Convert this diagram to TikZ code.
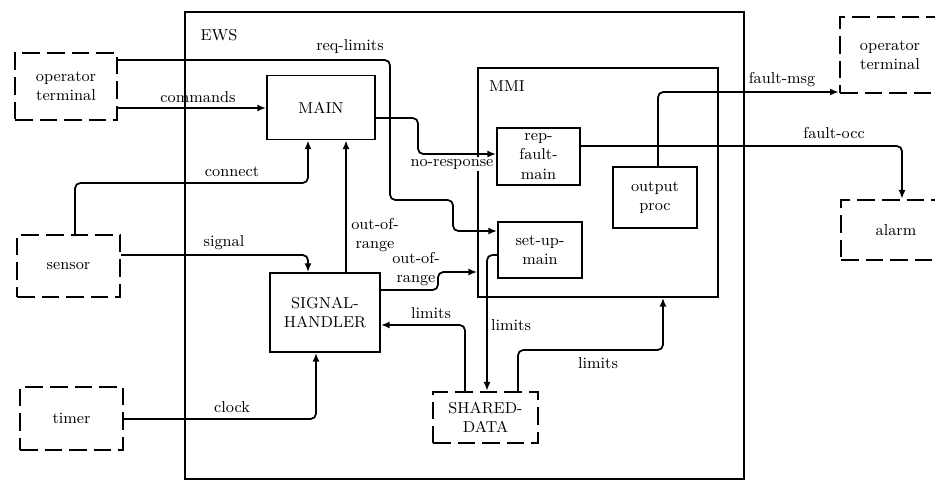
\documentclass[tikz,border=0pt]{standalone}
\usepackage{tikz}
\usetikzlibrary{arrows.meta}

\tikzset{
  proc/.style={draw, line width=1pt, align=center, inner sep=2pt},
  extern/.style={draw, line width=1.4pt, dash pattern=on 10pt off 4pt, align=center},
  flow/.style={line width=1pt, rounded corners=3pt, -{Latex[length=5pt,width=4pt]}},
  lbl/.style={inner sep=1pt, align=center},
}

\begin{document}
\begin{tikzpicture}[x=0.02cm,y=-0.02cm]
\fontsize{9}{11}\selectfont
\useasboundingbox (0,0) rectangle (935,493);
% containers
\node[proc, minimum width=11.18cm, minimum height=9.34cm] (ews) at (464.5,245.5) {};
\node[proc, minimum width=4.8cm, minimum height=4.58cm] (mmi) at (598,182.5) {};
\node[lbl] (ewsname) at (219,35) {EWS};
\node[lbl] (mminame) at (507,86) {MMI};
% processes
\node[proc, minimum width=2.16cm, minimum height=1.28cm] (main) at (321,107.5) {MAIN};
\node[proc, minimum width=1.66cm, minimum height=1.14cm] (rfm) at (538.5,156.5) {rep-\\fault-\\main};
\node[proc, minimum width=1.68cm, minimum height=1.12cm] (sum) at (540,250) {set-up-\\main};
\node[proc, minimum width=1.68cm, minimum height=1.22cm] (outp) at (655,197.5) {output\\proc};
\node[proc, minimum width=2.2cm, minimum height=1.58cm] (sh) at (325,312.5) {SIGNAL-\\HANDLER};
% externals
\node[extern, minimum width=2.04cm, minimum height=1.34cm] (opl) at (66,86.5) {operator\\terminal};
\node[extern, minimum width=2.0cm, minimum height=1.52cm] (opr) at (890,55) {operator\\terminal};
\node[extern, minimum width=2.2cm, minimum height=1.2cm] (alarm) at (896,230) {alarm};
\node[extern, minimum width=2.06cm, minimum height=1.24cm] (sensor) at (68.5,266) {sensor};
\node[extern, minimum width=2.06cm, minimum height=1.26cm] (timer) at (71.5,418.5) {timer};
\node[extern, minimum width=2.1cm, minimum height=1.02cm] (sd) at (485.5,417.5) {SHARED-\\DATA};
% flows
\draw[flow] (opl.east |- 0,60) -- (390,60) -- (390,200) -- (453,200) -- (453,231) -- (sum.west |- 0,231);
\draw[flow] (opl.east |- 0,108) -- (main.west |- 0,108);
\draw[flow] (sensor.north -| 75,0) |- (308,183) -- (main.south -| 308,0);
\draw[flow] (sh.north -| 346,0) -- (main.south -| 346,0);
\draw[flow] (main.east |- 0,118) -- (418,118) -- (418,154) -- (rfm.west |- 0,154);
\draw[flow] (rfm.east |- 0,146) -| (alarm.north -| 902,0);
\draw[flow] (outp.north -| 658,0) |- (opr.west |- 0,92);
\draw[flow] (sensor.east |- 0,255) -| (sh.north -| 308,0);
\draw[flow] (timer.east |- 0,419) -| (sh.south -| 316,0);
\draw[flow] (sh.east |- 0,290) -- (438,290) -- (438,272) -- (mmi.west |- 0,272);
\draw[flow] (sd.north -| 465,0) |- (sh.east |- 0,325);
\draw[flow] (sum.west |- 0,255) -| (sd.north -| 487,0);
\draw[flow] (sd.north -| 518,0) |- (663,350) -- (mmi.south -| 663,0);
% labels
\node[lbl] (reqlim) at (350,47) {req-limits};
\node[lbl] (cmd) at (198,97) {commands};
\node[lbl] (conn) at (232,172) {connect};
\node[lbl] (oor1) at (375,235) {out-of-\\range};
\node[lbl, fill=white] (noresp) at (452,164) {no-response};
\node[lbl] (focc) at (834,133) {fault-occ};
\node[lbl] (fmsg) at (782,80) {fault-msg};
\node[lbl] (sig) at (224,243) {signal};
\node[lbl] (clk) at (232,407) {clock};
\node[lbl] (oor2) at (416,269) {out-of-\\range};
\node[lbl] (lim1) at (431,313) {limits};
\node[lbl] (lim2) at (511,325) {limits};
\node[lbl] (lim3) at (598,363) {limits};
\end{tikzpicture}
\end{document}
